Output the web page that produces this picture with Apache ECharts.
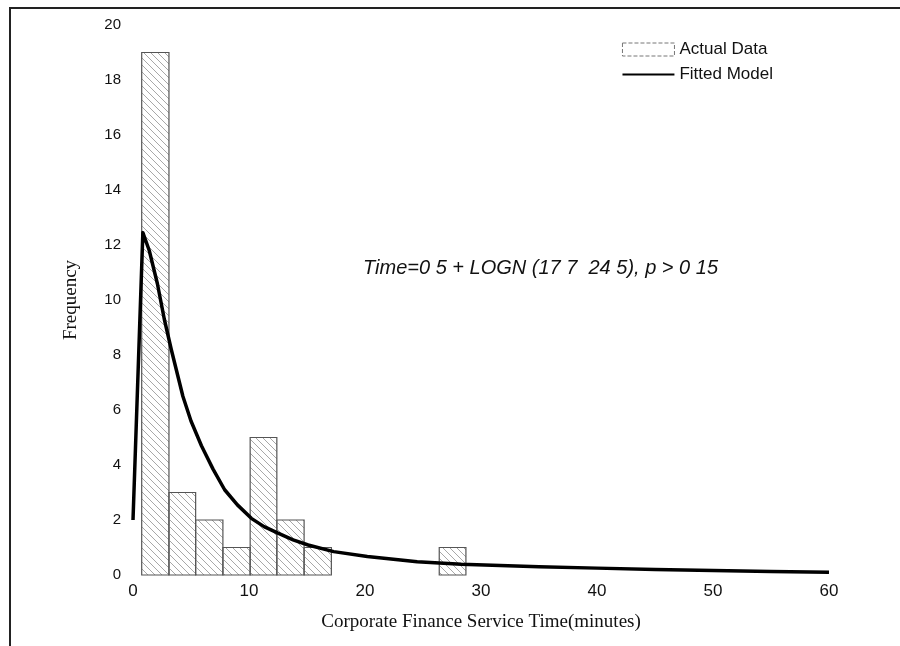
<!DOCTYPE html>
<html>
<head>
<meta charset="utf-8">
<script src="https://cdn.jsdelivr.net/npm/echarts@6/dist/echarts.min.js"></script>
<style>
html,body{margin:0;padding:0;background:#fff;}
#chart{width:900px;height:646px;}
</style>
</head>
<body>
<div id="chart"></div>
<script>
// Histogram bins (minutes) and counts
var binStarts = [0.75, 3.1, 5.4, 7.75, 10.1, 12.4, 14.75, 26.4];
var binEnds   = [3.1, 5.4, 7.75, 10.1, 12.4, 14.75, 17.1, 28.7];
var counts    = [19, 3, 2, 1, 5, 2, 1, 1];

// Fitted model curve (x minutes, frequency)
var fitX = [0, 0.85, 1.4, 2.1, 2.7, 3.3, 4.3, 5.0, 5.9, 6.9, 7.9, 9.0, 10.2, 11.3, 12.5, 13.8, 15.1, 17.3, 20.2, 24.5, 28.3, 35, 40, 45, 50, 55, 60];
var fitY = [2.0, 12.45, 11.8, 10.6, 9.3, 8.2, 6.5, 5.6, 4.7, 3.85, 3.1, 2.55, 2.06, 1.76, 1.52, 1.28, 1.09, 0.85, 0.67, 0.48, 0.39, 0.3, 0.25, 0.2, 0.16, 0.13, 0.1];

var xTicks = [0, 10, 20, 30, 40, 50, 60];
var yTicks = [0, 2, 4, 6, 8, 10, 12, 14, 16, 18, 20];

var annotation = 'Time=0 5 + LOGN (17 7  24 5), p > 0 15';

function makeHatch(){
  var c = document.createElement('canvas');
  c.width = 7; c.height = 7;
  var g = c.getContext('2d');
  g.strokeStyle = '#a8a8a8';
  g.lineWidth = 1;
  g.beginPath();
  g.moveTo(-1, -1); g.lineTo(8, 8);
  g.stroke();
  return {image: c, repeat: 'repeat'};
}
var hatch = makeHatch();

var barData = binStarts.map(function(s, i){ return [s, binEnds[i], counts[i]]; });
var lineData = fitX.map(function(x, i){ return [x, fitY[i]]; });

var lineIcon = 'path://M0,0L0.01,0L0.01,0.01Z M0,5.5L52,5.5L52,7.5L0,7.5Z M0,13L0.01,13L0.01,13.01Z';

var chart = echarts.init(document.getElementById('chart'), null, {renderer: 'canvas'});
chart.setOption({
  backgroundColor: '#fff',
  animation: false,
  grid: {left: 133, right: 71, top: 25, bottom: 71},
  legend: {
    right: 122, top: 36,
    orient: 'vertical',
    itemWidth: 52, itemHeight: 13, itemGap: 8,
    textStyle: {fontFamily: 'Liberation Sans', fontSize: 17, color: '#111'},
    data: [
      {name: 'Actual Data', icon: 'rect', itemStyle: {color: '#fff', borderColor: '#777', borderWidth: 1, borderType: 'dashed'}},
      {name: 'Fitted Model', icon: lineIcon, itemStyle: {color: '#000', borderWidth: 0}}
    ]
  },
  xAxis: {
    type: 'value', min: 0, max: 60, interval: 10,
    name: 'Corporate Finance Service Time(minutes)',
    nameLocation: 'middle', nameGap: 38,
    nameTextStyle: {fontFamily: 'Liberation Serif', fontSize: 19, color: '#111'},
    axisLine: {show: false}, axisTick: {show: false}, splitLine: {show: false},
    axisLabel: {fontFamily: 'Liberation Sans', fontSize: 17, color: '#111', margin: 8,
      formatter: function(v){ return xTicks.indexOf(v) >= 0 ? String(v) : ''; }}
  },
  yAxis: {
    type: 'value', min: 0, max: 20, interval: 2,
    name: 'Frequency',
    nameLocation: 'middle', nameGap: 52, nameRotate: 90,
    nameTextStyle: {fontFamily: 'Liberation Serif', fontSize: 19, color: '#111'},
    axisLine: {show: false}, axisTick: {show: false}, splitLine: {show: false},
    axisLabel: {fontFamily: 'Liberation Sans', fontSize: 15, color: '#111', margin: 12,
      formatter: function(v){ return yTicks.indexOf(v) >= 0 ? String(v) : ''; }}
  },
  graphic: [
    {type: 'line', shape: {x1: 10, y1: 8, x2: 10, y2: 646}, style: {stroke: '#222', lineWidth: 2}},
    {type: 'line', shape: {x1: 9, y1: 8, x2: 900, y2: 8}, style: {stroke: '#222', lineWidth: 2}},
    {type: 'text', left: 363, top: 258,
      style: {text: annotation, font: 'italic 20px "Liberation Sans"', fill: '#111'}}
  ],
  series: [
    {
      name: 'Actual Data',
      type: 'custom',
      data: barData,
      encode: {x: [0, 1], y: 2},
      itemStyle: {color: '#fff', borderColor: '#777'},
      renderItem: function(params, api){
        var s = api.value(0), e = api.value(1), h = api.value(2);
        var p0 = api.coord([s, h]);
        var p1 = api.coord([e, 0]);
        return {
          type: 'rect',
          shape: {x: p0[0], y: p0[1], width: p1[0] - p0[0], height: p1[1] - p0[1]},
          style: {fill: hatch, stroke: '#555', lineWidth: 1.2}
        };
      },
      z: 1
    },
    {
      name: 'Fitted Model',
      type: 'line',
      data: lineData,
      showSymbol: false,
      symbol: 'none',
      smooth: false,
      lineStyle: {color: '#000', width: 3.5, join: 'round'},
      itemStyle: {color: '#000'},
      z: 3
    }
  ]
});
</script>
</body>
</html>
